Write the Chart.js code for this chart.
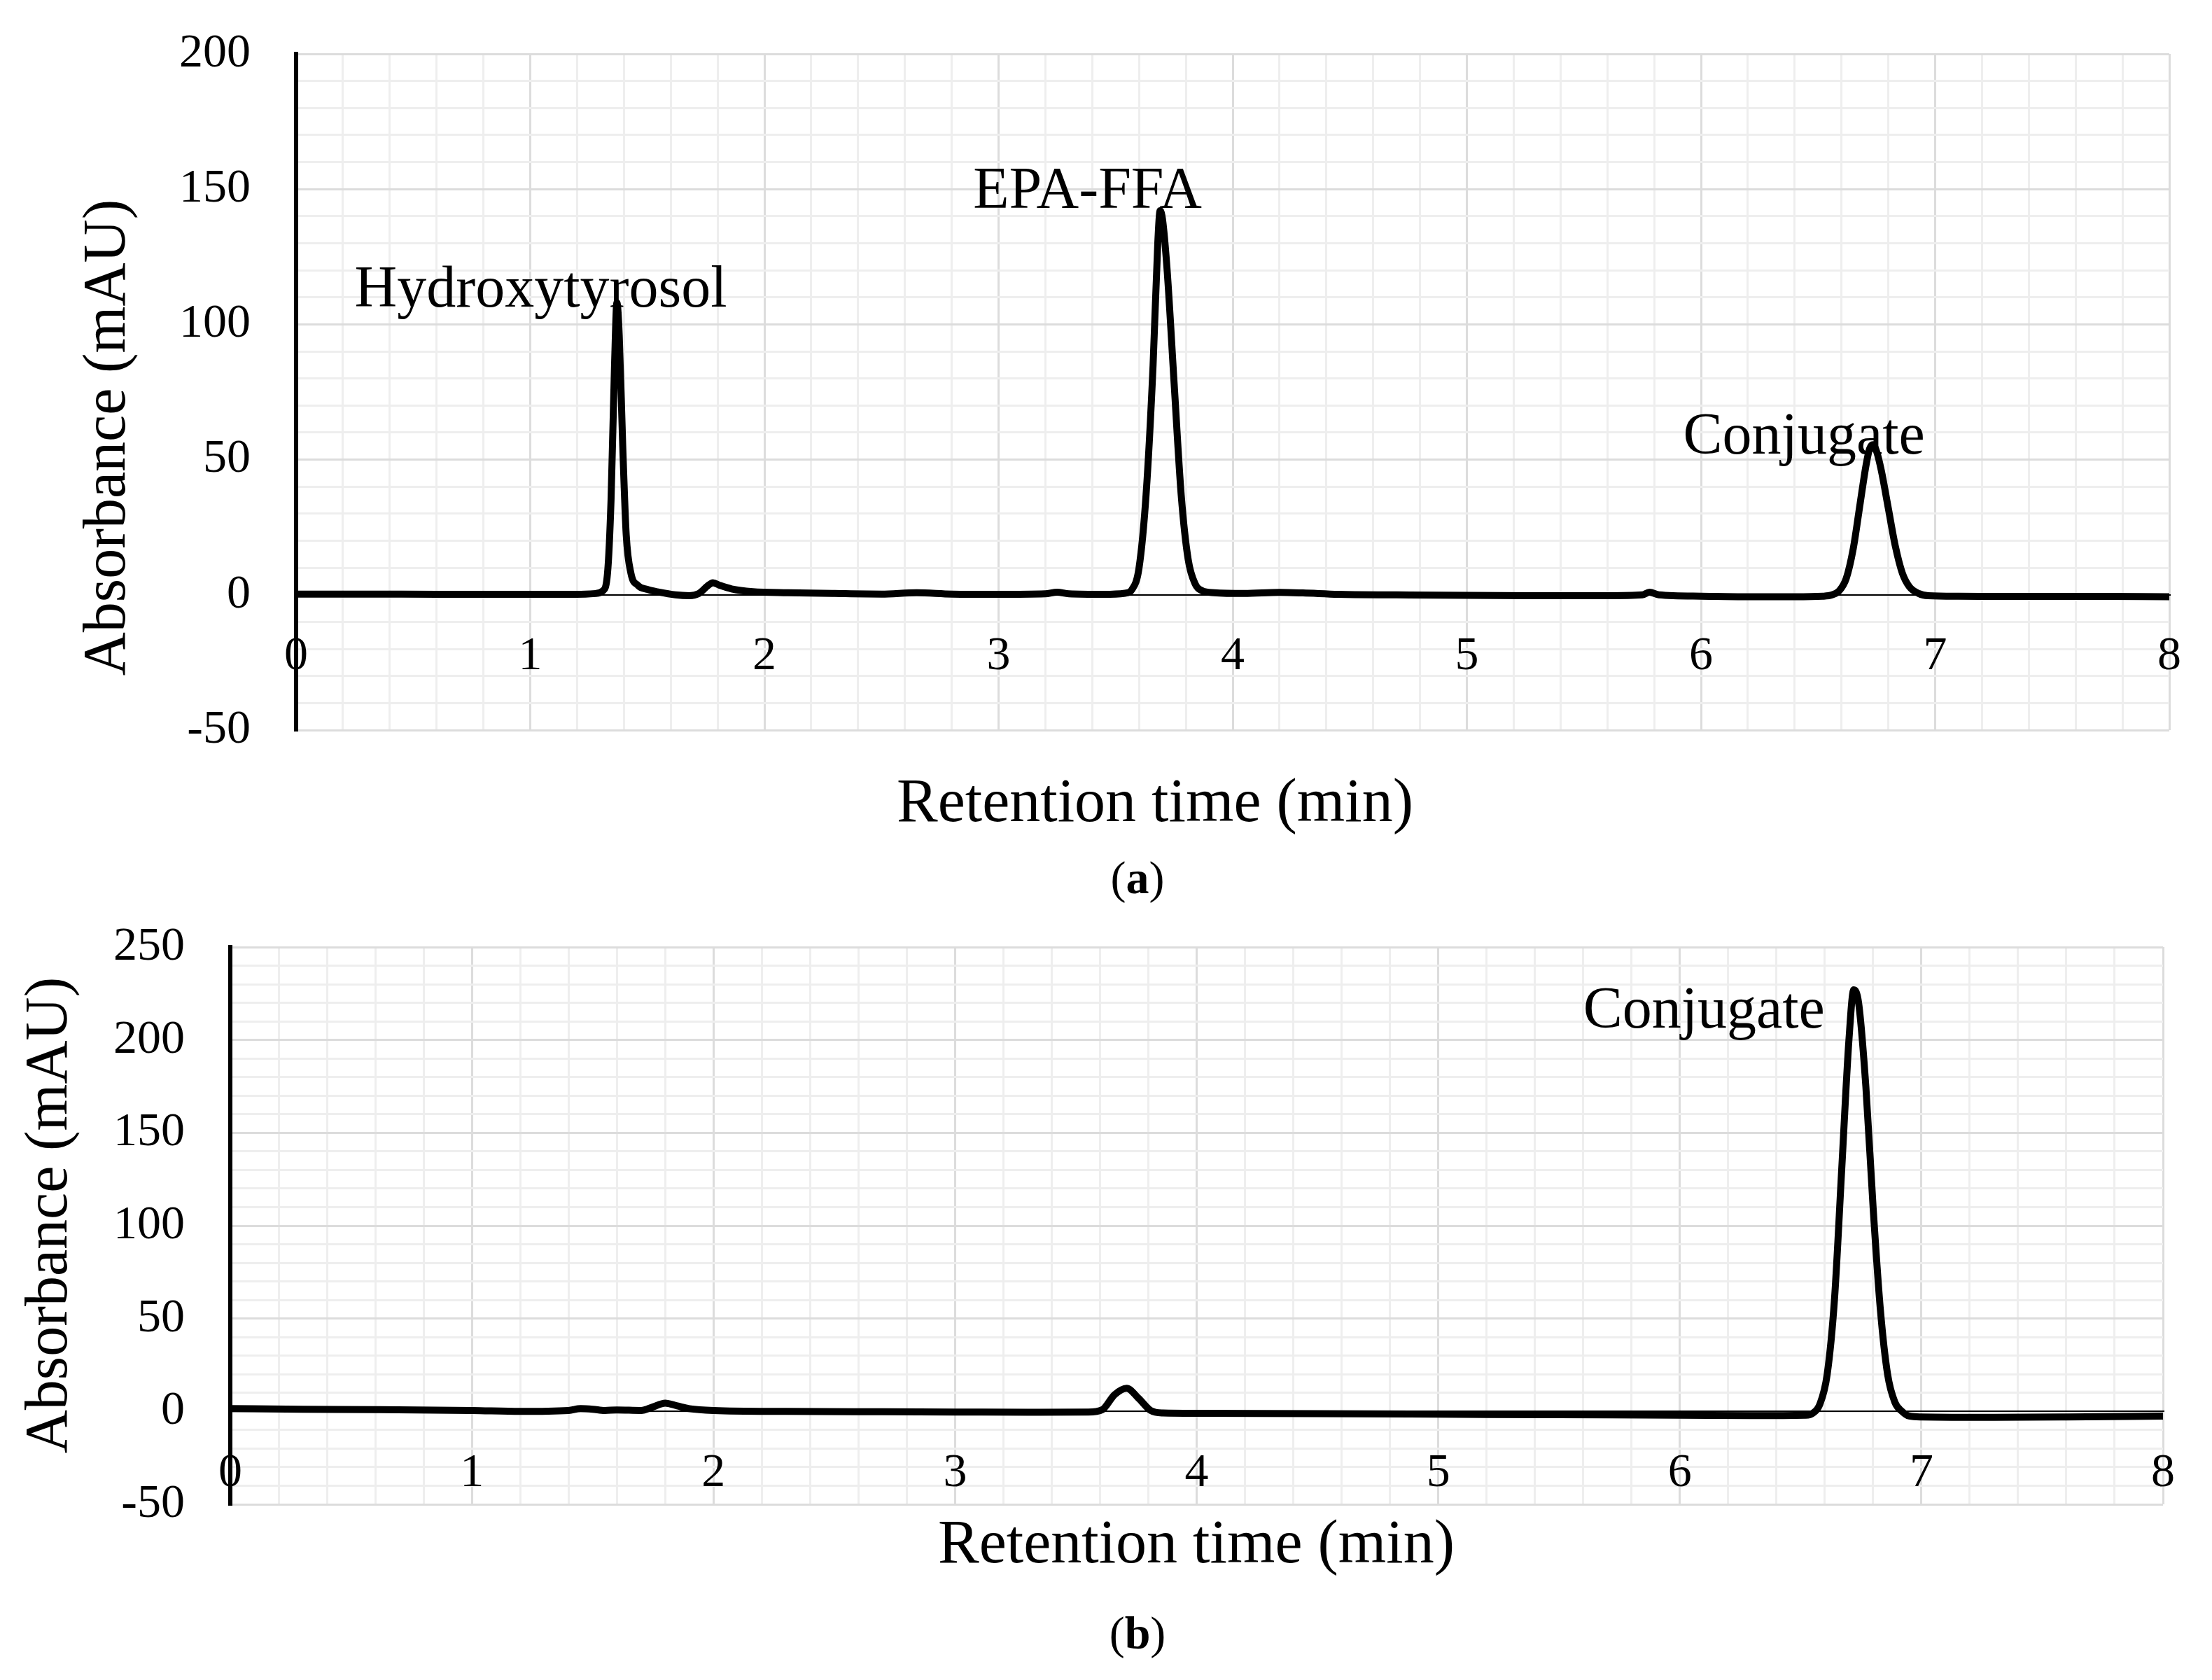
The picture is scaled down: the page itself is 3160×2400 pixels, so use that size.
<!DOCTYPE html>
<html lang="en">
<head>
    <meta charset="UTF-8">
    <title>HPLC chromatograms</title>
    <script src="https://cdn.jsdelivr.net/npm/chart.js"></script>
    <style>
        body { margin: 0; background: #fff; }
        .panel { position: absolute; left: 0; width: 3160px; }
        #panelA { top: 0; height: 1300px; }
        #panelB { top: 1300px; height: 1100px; }
    </style>
</head>
<body>
    <div class="panel" id="panelA"><canvas id="chartA"></canvas></div>
    <div class="panel" id="panelB"><canvas id="chartB"></canvas></div>

    <script>
        // (a) reaction mixture
        const timeA = [
            0, 0.3, 0.6, 0.9, 1.2, 1.28, 1.31, 1.33, 1.345, 1.36,
            1.37, 1.38, 1.395, 1.41, 1.43, 1.46, 1.5, 1.55, 1.62, 1.68,
            1.72, 1.76, 1.78, 1.81, 1.86, 1.95, 2.1, 2.3, 2.5, 2.65,
            2.8, 3.0, 3.2, 3.25, 3.3, 3.45, 3.54, 3.57, 3.6, 3.63,
            3.66, 3.68, 3.69, 3.70, 3.72, 3.75, 3.78, 3.81, 3.84, 3.87,
            3.92, 4.05, 4.2, 4.3, 4.45, 4.7, 5.0, 5.3, 5.6, 5.75,
            5.78, 5.82, 6.0, 6.2, 6.4, 6.52, 6.56, 6.59, 6.62, 6.65,
            6.68, 6.705, 6.72, 6.735, 6.75, 6.77, 6.8, 6.83, 6.86, 6.89,
            6.93, 6.97, 7.1, 7.4, 7.7, 8.0
        ];
        const absA = [
            0.3, 0.3, 0.2, 0.2, 0.2, 0.5, 1.5, 8, 35, 85,
            108, 96, 55, 22, 8, 3.5, 2, 1, 0, -0.3,
            0.5, 3.5, 4.5, 3.5, 2.2, 1.2, 0.8, 0.5, 0.3, 0.8,
            0.3, 0.2, 0.4, 1, 0.4, 0.2, 0.6, 2, 10, 37,
            85, 130, 142, 139, 120, 78, 37, 13, 4, 1.5,
            0.8, 0.5, 0.9, 0.7, 0.2, 0, -0.2, -0.3, -0.3, 0,
            1, 0, -0.5, -0.7, -0.7, -0.5, 0, 1.5, 6, 17,
            34, 48, 54, 55.5, 53, 46, 32, 18, 8, 3,
            0.5, -0.3, -0.5, -0.6, -0.6, -0.7
        ];

        // (b) purified conjugate
        const timeB = [
            0, 0.3, 0.6, 1.0, 1.2, 1.4, 1.45, 1.5, 1.55, 1.6,
            1.7, 1.75, 1.8, 1.85, 1.9, 2.0, 2.3, 2.7, 3.0, 3.3,
            3.55, 3.61, 3.66, 3.71, 3.76, 3.81, 3.86, 4.0, 4.5, 5.0,
            5.5, 6.0, 6.3, 6.52, 6.55, 6.58, 6.61, 6.64, 6.67, 6.7,
            6.72, 6.74, 6.77, 6.8, 6.83, 6.86, 6.89, 6.92, 6.95, 7.0,
            7.3, 7.6, 8.0
        ];
        const absB = [
            1.5, 1.2, 1, 0.5, 0, 0.5, 1.5, 1.2, 0.5, 0.8,
            0.5, 2.5, 4.5, 3, 1.5, 0.5, 0, -0.2, -0.3, -0.4,
            -0.3, 1, 9, 12.5, 7, 0.5, -0.8, -1, -1.2, -1.5,
            -1.8, -2, -2.2, -2, -1, 4, 20, 60, 130, 200,
            227, 220, 175, 110, 55, 20, 5, 0, -2.5, -3,
            -3.2, -3, -2.5
        ];

        const xTicks = [0, 1, 2, 3, 4, 5, 6, 7, 8];
        const yTicksA = [-50, 0, 50, 100, 150, 200];
        const yTicksB = [-50, 0, 50, 100, 150, 200, 250];

        const peakNamesA = ['Hydroxytyrosol', 'EPA-FFA', 'Conjugate'];
        const peakNamesB = ['Conjugate'];

        const serif = '"Liberation Serif", "Times New Roman", serif';
        const majorGrid = '#dcdcdc';
        const minorGrid = '#eeeeee';

        function isWhole(v, step) {
            const r = v / step;
            return Math.abs(r - Math.round(r)) < 1e-6;
        }

        // axis titles, panel letter and peak names
        const panelText = {
            id: 'panelText',
            afterDraw(chart, args, o) {
                const ctx = chart.ctx;
                const sx = chart.scales.x, sy = chart.scales.y;
                ctx.save();
                ctx.fillStyle = '#000';

                ctx.font = '84px ' + serif;
                ctx.textAlign = 'center';
                ctx.textBaseline = 'alphabetic';
                o.peaks.forEach(p => {
                    ctx.fillText(p.text, sx.getPixelForValue(p.t), sy.getPixelForValue(p.v));
                });

                ctx.textBaseline = 'middle';
                ctx.font = '88px ' + serif;
                ctx.fillText('Retention time (min)', o.xTitle[0], o.xTitle[1]);

                ctx.save();
                ctx.translate(o.yTitle[0], o.yTitle[1]);
                ctx.rotate(-Math.PI / 2);
                ctx.font = '86px ' + serif;
                ctx.fillText('Absorbance (mAU)', 0, 0);
                ctx.restore();

                // "(a)" with a bold letter
                const normal = '66px ' + serif, bold = 'bold 66px ' + serif;
                ctx.font = normal;
                const wp = ctx.measureText('(').width, wq = ctx.measureText(')').width;
                ctx.font = bold;
                const wl = ctx.measureText(o.letter).width;
                let x0 = o.letterPos[0] - (wp + wl + wq) / 2;
                ctx.textAlign = 'left';
                ctx.font = normal;
                ctx.fillText('(', x0, o.letterPos[1]);
                ctx.font = bold;
                ctx.fillText(o.letter, x0 + wp, o.letterPos[1]);
                ctx.font = normal;
                ctx.fillText(')', x0 + wp + wl, o.letterPos[1]);
                ctx.restore();
            }
        };

        function makeChart(id, times, values, yTicks, axisWidth, padding, text) {
            const points = times.map((t, i) => ({ x: t, y: values[i] }));
            return new Chart(document.getElementById(id), {
                type: 'line',
                data: {
                    datasets: [{
                        data: points,
                        borderColor: '#000',
                        borderWidth: 10,
                        pointRadius: 0,
                        cubicInterpolationMode: 'monotone',
                        borderJoinStyle: 'round',
                        borderCapStyle: 'round',
                        fill: false
                    }]
                },
                options: {
                    responsive: true,
                    maintainAspectRatio: false,
                    animation: false,
                    events: [],
                    layout: { padding: padding },
                    plugins: {
                        legend: { display: false },
                        tooltip: { enabled: false },
                        panelText: text
                    },
                    scales: {
                        x: {
                            type: 'linear',
                            position: { y: 0 },
                            min: xTicks[0],
                            max: xTicks[xTicks.length - 1],
                            afterFit: s => {
                                s.height = 0;
                                s.paddingLeft = 0;
                                s.paddingRight = 0;
                            },
                            border: { color: '#000', width: 2 },
                            grid: {
                                drawTicks: false,
                                lineWidth: 3,
                                color: c => (c.tick && isWhole(c.tick.value, 1)) ? majorGrid : minorGrid
                            },
                            ticks: {
                                stepSize: 0.2,
                                autoSkip: false,
                                maxRotation: 0,
                                padding: 48,
                                color: '#000',
                                font: { family: serif, size: 68 },
                                callback: v => xTicks.includes(Math.round(v)) && isWhole(v, 1) ? String(Math.round(v)) : ''
                            }
                        },
                        y: {
                            min: yTicks[0],
                            max: yTicks[yTicks.length - 1],
                            // keep the plot box where the figure has it
                            afterFit: s => {
                                s.width = axisWidth;
                                s.paddingTop = 0;
                                s.paddingBottom = 0;
                            },
                            border: { color: '#000', width: 6 },
                            grid: {
                                drawTicks: false,
                                lineWidth: 3,
                                color: c => (c.tick && isWhole(c.tick.value, 50)) ? majorGrid : minorGrid
                            },
                            ticks: {
                                stepSize: 10,
                                autoSkip: false,
                                padding: 65,
                                color: '#000',
                                font: { family: serif, size: 68 },
                                callback: v => yTicks.includes(Math.round(v)) && isWhole(v, 50) ? String(Math.round(v)) : ''
                            }
                        }
                    }
                },
                plugins: [panelText]
            });
        }

        makeChart('chartA', timeA, absA, yTicksA, 423,
            { left: 0, top: 77, right: 61, bottom: 257 },
            {
                peaks: [
                    { text: peakNamesA[0], t: 1.045, v: 106.5 },
                    { text: peakNamesA[1], t: 3.38, v: 143 },
                    { text: peakNamesA[2], t: 6.44, v: 52.3 }
                ],
                xTitle: [1650, 1150],
                yTitle: [155, 625],
                letter: 'a',
                letterPos: [1625, 1259]
            });

        makeChart('chartB', timeB, absB, yTicksB, 329,
            { left: 0, top: 53, right: 70, bottom: 251 },
            {
                peaks: [
                    { text: peakNamesB[0], t: 6.10, v: 206.5 }
                ],
                xTitle: [1709, 909],
                yTitle: [72, 436],
                letter: 'b',
                letterPos: [1625, 1038]
            });
    </script>
</body>
</html>
